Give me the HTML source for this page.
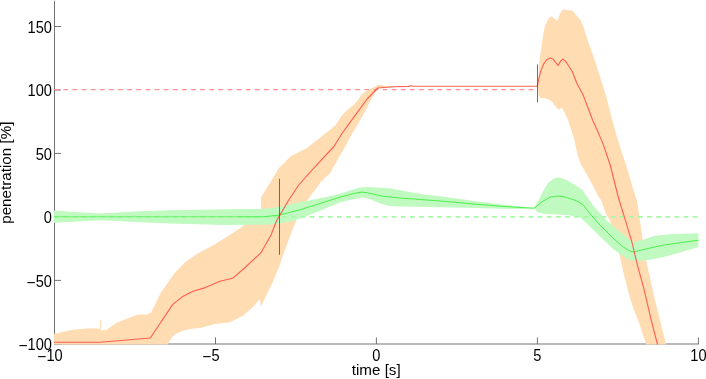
<!DOCTYPE html>
<html><head><meta charset="utf-8"><title>penetration</title>
<style>
html,body{margin:0;padding:0;background:#fff;}
body{width:706px;height:379px;overflow:hidden;font-family:"Liberation Sans",sans-serif;}
svg{display:block;}
</style></head><body>
<svg width="706" height="379" viewBox="0 0 706 379">
<rect width="706" height="379" fill="#fff"/>
<g stroke="#505050" stroke-width="0.8" fill="none">
<line x1="54.5" y1="0.8" x2="54.5" y2="344.4"/>
<line x1="54.1" y1="344.0" x2="698.9" y2="344.0"/>
<line x1="54.5" y1="26.50" x2="61.0" y2="26.50"/>
<line x1="54.5" y1="90.00" x2="61.0" y2="90.00"/>
<line x1="54.5" y1="153.45" x2="61.0" y2="153.45"/>
<line x1="54.5" y1="216.90" x2="61.0" y2="216.90"/>
<line x1="54.5" y1="280.40" x2="61.0" y2="280.40"/>
<line x1="54.5" y1="343.90" x2="61.0" y2="343.90"/>
<line x1="54.5" y1="344.0" x2="54.5" y2="337.4"/>
<line x1="215.5" y1="344.0" x2="215.5" y2="337.4"/>
<line x1="376.4" y1="344.0" x2="376.4" y2="337.4"/>
<line x1="537.4" y1="344.0" x2="537.4" y2="337.4"/>
<line x1="698.4" y1="344.0" x2="698.4" y2="337.4"/>
</g>
<polygon fill="#ffdcb2" points="54.0,334.0 72.6,329.7 90.0,328.2 99.6,328.7 100.1,328.7 100.1,319.7 101.1,319.7 101.1,330.7 106.4,329.7 117.7,322.2 137.7,314.4 146.5,314.6 151.0,312.6 161.0,292.6 174.0,273.8 185.3,262.0 198.5,253.0 212.7,245.5 227.0,236.8 241.2,227.5 248.0,222.0 261.0,212.0 261.0,197.5 269.0,184.4 278.5,168.6 291.1,156.0 307.0,148.0 322.8,135.4 335.4,125.2 337.1,122.7 341.9,115.5 347.8,109.6 353.8,104.8 358.5,98.9 362.1,93.8 369.2,89.8 378.8,84.5 386.0,86.0 393.5,86.2 393.5,87.2 386.0,87.6 379.7,88.2 377.0,89.5 370.5,100.6 365.6,110.2 359.7,120.9 354.9,129.2 351.6,134.5 344.5,148.0 338.0,159.0 329.8,173.4 321.3,181.3 307.6,200.0 298.7,215.0 292.4,230.0 283.0,255.0 279.8,265.0 277.7,270.0 272.7,282.6 266.4,295.0 260.9,306.4 259.8,298.8 252.6,307.6 242.6,316.0 230.0,322.3 215.0,324.0 200.0,328.0 191.5,328.8 182.9,330.8 175.2,334.2 171.7,337.8 167.5,344.5 54.0,344.5"/>
<polygon fill="#ffdcb2" points="537.5,86.3 538.5,80.0 539.4,60.0 541.5,47.5 543.1,34.9 544.6,26.9 548.6,18.2 551.5,16.2 557.3,20.9 560.5,12.7 563.2,9.2 567.6,10.3 572.4,10.5 575.5,14.3 580.3,19.8 583.5,26.9 587.4,39.6 591.4,50.7 595.6,62.7 600.9,79.6 606.2,96.5 611.4,117.0 616.4,135.0 622.7,155.0 627.7,170.0 632.7,187.7 637.0,201.0 639.9,220.0 642.4,237.6 644.9,255.0 649.9,277.6 654.9,300.1 661.2,325.2 666.2,344.5 646.2,344.5 639.9,325.2 634.1,310.0 630.6,300.1 627.7,289.6 623.8,273.8 619.3,254.0 609.8,220.0 606.4,215.0 601.0,200.0 597.6,195.0 590.0,180.0 581.3,165.0 577.6,155.0 573.8,137.5 571.3,130.0 568.0,120.0 563.9,111.3 561.8,107.5 559.7,109.6 557.6,108.7 554.4,104.9 552.3,101.8 549.1,99.7 544.9,98.2 540.7,98.2 538.6,95.4 537.7,87.0"/>
<polygon fill="#c0fac0" points="54.0,210.8 101.0,213.4 135.0,211.6 170.0,210.2 226.0,209.3 263.6,208.8 279.4,207.1 301.0,202.0 326.0,197.0 340.0,193.7 350.2,190.6 358.7,187.8 365.5,186.9 374.0,187.2 391.0,188.6 408.0,191.7 425.0,194.6 442.0,196.6 460.0,198.9 477.0,201.5 502.0,204.6 522.0,206.6 534.0,208.1 540.0,197.6 542.4,192.6 547.5,183.8 552.4,179.5 555.0,178.0 558.6,177.5 561.3,178.0 567.4,180.5 570.0,182.0 578.0,187.0 582.6,190.0 592.7,205.0 605.2,218.9 617.7,230.0 630.3,240.2 634.0,242.2 642.8,239.7 655.3,235.7 670.4,234.2 698.4,233.2 698.4,247.2 685.4,250.8 680.0,252.4 670.4,255.2 663.4,257.1 655.3,258.8 646.0,260.3 634.6,261.1 630.1,260.3 625.2,257.6 612.7,248.8 600.0,236.4 587.6,223.9 580.0,217.6 567.6,215.0 545.0,214.0 537.5,212.0 534.0,208.3 522.0,209.0 502.0,208.8 477.0,208.0 452.0,207.4 427.0,206.9 399.5,206.6 389.3,206.0 379.1,203.1 368.9,198.8 362.1,197.5 355.0,198.9 341.0,202.0 327.8,207.5 308.0,215.4 294.8,220.6 279.4,223.5 263.6,224.7 226.0,225.1 170.0,223.5 135.0,222.0 101.0,220.2 54.0,222.7"/>
<line x1="54.3" y1="216.85" x2="698.4" y2="216.85" stroke="#a8f8a8" stroke-width="1.7" stroke-dasharray="4.75 4.37"/>
<line x1="54.3" y1="89.6" x2="537.3" y2="89.6" stroke="#ff9090" stroke-width="1.2" stroke-dasharray="4.75 4.37"/>
<line x1="54" y1="216.75" x2="238" y2="216.75" stroke="#4cf04c" stroke-width="1" stroke-opacity="0.7"/>
<polyline fill="none" stroke="#4cf04c" stroke-width="1" stroke-linejoin="round" points="238.0,216.8 263.0,216.8 279.4,215.1 301.0,209.5 340.0,197.2 356.0,193.0 362.1,192.1 368.0,192.9 382.5,196.2 402.0,198.2 427.0,200.0 452.0,202.0 477.0,204.3 502.0,206.3 522.0,207.6 534.0,208.2 542.5,201.5 550.0,197.2 554.5,196.4 558.8,196.2 563.0,196.6 567.6,197.8 576.0,200.6 583.0,204.6 588.9,212.2 597.3,222.3 605.8,230.8 614.2,239.2 622.7,246.6 630.3,251.3 634.0,252.0 642.8,249.7 662.8,245.2 680.4,242.7 698.4,240.2"/>
<polyline fill="none" stroke="#ff5044" stroke-width="1.1" stroke-opacity="0.9" stroke-linejoin="round" points="54.0,342.3 100.0,342.2 150.3,338.0 172.8,304.4 182.8,296.4 192.9,291.3 205.4,287.6 220.0,281.3 232.6,278.3 245.1,267.5 261.0,252.7 271.0,235.0 276.8,220.3 279.9,215.1 288.7,200.0 298.7,185.0 313.3,168.6 333.9,146.5 341.8,133.8 354.4,116.4 367.1,99.0 377.8,88.0 393.5,86.8 408.5,86.4 411.0,85.7 413.5,86.3 537.3,86.2 538.6,79.6 540.7,71.1 543.8,63.7 547.0,59.5 550.2,58.0 552.9,58.9 555.5,62.3 558.2,65.4 560.7,61.0 562.9,59.1 565.0,60.6 568.6,65.8 572.6,72.2 577.0,83.8 582.9,94.4 589.3,111.3 592.6,120.0 602.6,142.6 610.2,165.0 617.7,195.0 619.1,200.0 626.1,222.6 632.4,243.9 637.4,265.2 643.6,287.6 651.2,320.2 657.5,344.5"/>
<line x1="279.5" y1="178.8" x2="279.5" y2="254.8" stroke="#555555" stroke-width="0.85"/>
<line x1="537.5" y1="64.4" x2="537.5" y2="102.2" stroke="#555555" stroke-width="0.85"/>
<g font-family="'Liberation Sans', sans-serif" font-size="15.20px" fill="#000" opacity="0.999">
<text transform="translate(51.9,32.9) scale(0.960,1.055)" text-anchor="end">150</text>
<text transform="translate(51.9,96.4) scale(0.960,1.055)" text-anchor="end">100</text>
<text transform="translate(51.9,159.8) scale(0.960,1.055)" text-anchor="end">50</text>
<text transform="translate(51.9,223.3) scale(0.960,1.055)" text-anchor="end">0</text>
<text transform="translate(51.9,286.8) scale(0.960,1.055)" text-anchor="end">50</text>
<text transform="translate(35.6,287.8) scale(1.020,1.055)" text-anchor="end">−</text>
<text transform="translate(51.9,350.3) scale(0.960,1.055)" text-anchor="end">100</text>
<text transform="translate(27.5,351.3) scale(1.020,1.055)" text-anchor="end">−</text>
<text transform="translate(54.5,360.8) scale(0.960,1.055)" text-anchor="middle">10</text>
<text transform="translate(46.3,361.8) scale(1.020,1.055)" text-anchor="end">−</text>
<text transform="translate(215.5,360.8) scale(0.960,1.055)" text-anchor="middle">5</text>
<text transform="translate(211.3,361.8) scale(1.020,1.055)" text-anchor="end">−</text>
<text transform="translate(376.4,360.8) scale(0.960,1.055)" text-anchor="middle">0</text>
<text transform="translate(537.4,360.8) scale(0.960,1.055)" text-anchor="middle">5</text>
<text transform="translate(698.4,360.8) scale(0.960,1.055)" text-anchor="middle">10</text>
<text x="376.2" y="374.6" text-anchor="middle">time [s]</text>
<text transform="translate(10.6,172.7) rotate(-90)" text-anchor="middle">penetration [%]</text>
</g>
</svg>
</body></html>
